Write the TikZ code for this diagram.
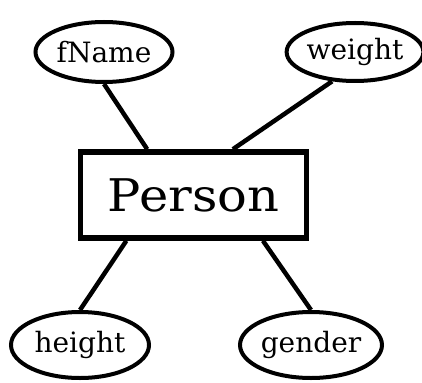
\documentclass[tikz,border=0pt]{standalone}
\usepackage{fontspec}
\setmainfont{DejaVu Serif}
\newfontfamily\widefont[FakeStretch=1.1]{DejaVu Serif}
\usetikzlibrary{shapes.geometric,calc}
\begin{document}
\begin{tikzpicture}[x=1pt,y=-1pt,
  attr/.style={ellipse,draw,line width=4pt,inner sep=0pt,font=\fontsize{28}{32}\selectfont},
  entity/.style={rectangle,draw,line width=5.5pt,inner sep=0pt,minimum width=226pt,minimum height=86pt,font=\widefont\fontsize{45}{50}\selectfont},
  link/.style={line width=4.5pt}]
\useasboundingbox (0,0) rectangle (422,382);
\node[entity] (P) at (193.5,195) {Person};
\node[attr,minimum width=137pt,minimum height=60pt] (fn) at (104,52) {fName};
\node[attr,minimum width=130pt,minimum height=58pt] (w) at (355,52) {weight};
\node[attr,minimum width=138pt,minimum height=66pt] (h) at (80,345) {height};
\node[attr,minimum width=139pt,minimum height=66pt] (g) at (311,345) {gender};
\draw[link] (fn.south) -- ($(P.north west)!0.3!(P.north east)$);
\draw[link] (w.232) -- ($(P.north west)!0.67!(P.north east)$);
\draw[link] (h.north) -- ($(P.south west)!0.21!(P.south east)$);
\draw[link] (g.north) -- ($(P.south west)!0.8!(P.south east)$);
\end{tikzpicture}
\end{document}
